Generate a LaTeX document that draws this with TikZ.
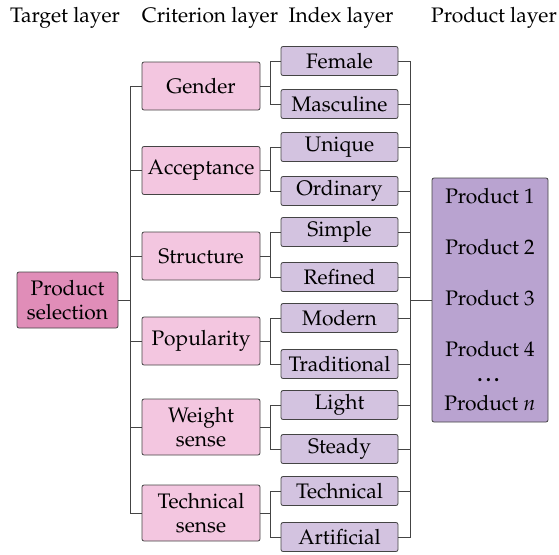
\documentclass[tikz,border=0pt]{standalone}
\usepackage[T1]{fontenc}
\usepackage{mathpazo}
\definecolor{targetFill}{HTML}{E08DB8}
\definecolor{critFill}{HTML}{F3C6E0}
\definecolor{indexFill}{HTML}{D3C3E0}
\definecolor{prodFill}{HTML}{B9A3D0}
\definecolor{edgeGray}{HTML}{444444}

\begin{document}
\begin{tikzpicture}
[x=1pt,y=-1pt,
  lineDecorate/.style={-,line width=0.8pt,draw=edgeGray},%
  boxDecorate/.style={shape=rectangle,rounded corners=2pt,draw=edgeGray,line width=0.8pt,align=center,inner sep=1pt},%
  targetDecorate/.style={boxDecorate,fill=targetFill,minimum width=101pt,minimum height=56pt},%
  critDecorate/.style={boxDecorate,fill=critFill,minimum width=118pt},%
  indexDecorate/.style={boxDecorate,fill=indexFill,minimum width=117pt,minimum height=29pt},%
  prodDecorate/.style={boxDecorate,fill=prodFill,minimum width=116pt,minimum height=244pt}]
\fontsize{21}{24}\selectfont
\useasboundingbox (0,0) rectangle (559,554);
%% layer titles
\foreach \nodename/\x/\txt in {tl/65/Target layer, cl/210/Criterion layer,
  il/341/Index layer, pl/494/Product layer}
{
  \node (\nodename) at (\x,18) {\txt};
}
%% target and product
\node (target) at (67.5,300) [targetDecorate] {Product\\selection};
\node (product) at (490,300) [prodDecorate]
  {Product 1\\[27pt]Product 2\\[27pt]Product 3\\[27pt]Product 4\\[1pt]
   \textbf{\dots}\\[5pt]Product $n$};
%% criterion layer
\foreach \nodename/\y/\h/\txt in {
  gender/86/48/Gender, accept/170.5/48/Acceptance, struct/256/48/Structure,
  popular/341/48/Popularity, weight/427/56/Weight\\sense,
  techsense/513/56/Technical\\sense}
{
  \node (\nodename) at (201,\y) [critDecorate,minimum height=\h pt] {\txt};
  \draw[lineDecorate] (target.east) -- +(12,0) |- (\nodename.west);
}
%% index layer
\foreach \parent/\nodename/\y/\txt in {
  gender/female/61/Female, gender/masc/104/Masculine,
  accept/unique/147/Unique, accept/ordin/191/Ordinary,
  struct/simple/232/Simple, struct/refined/277/Refined,
  popular/modern/318/Modern, popular/tradit/364/Traditional,
  weight/light/405/Light, weight/steady/449/Steady,
  techsense/technic/491/Technical, techsense/artif/537/Artificial}
{
  \node (\nodename) at (339.5,\y) [indexDecorate] {\txt};
  \draw[lineDecorate] (\parent.east) -- +(10,0) |- (\nodename.west);
  \draw[lineDecorate] (\nodename.east) -- +(12,0) |- (product.west);
}
\end{tikzpicture}
\end{document}
